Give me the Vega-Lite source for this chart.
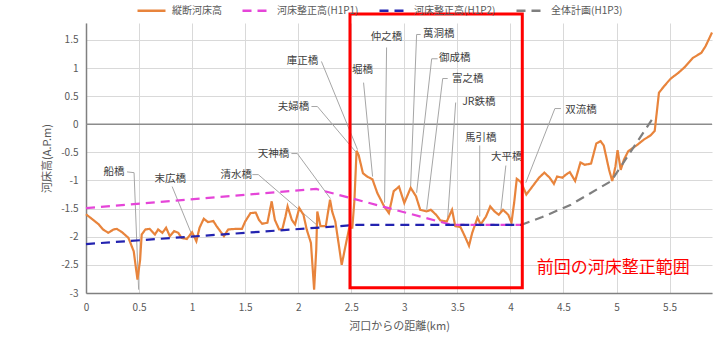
{
  "$schema": "https://vega.github.io/schema/vega-lite/v6.json",
  "width": 626,
  "height": 270,
  "autosize": {"type": "none"},
  "padding": {"left": 86, "top": 23, "right": 16, "bottom": 52},
  "background": "white",
  "config": {
    "font": "Noto Sans CJK JP",
    "view": {"stroke": null},
    "axis": {"labelFont": "Noto Sans CJK JP", "titleFont": "Noto Sans CJK JP"}
  },
  "datasets": {
    "profile": [
      {"series": "縦断河床高", "km": 0.00, "h": -1.60},
      {"series": "縦断河床高", "km": 0.12, "h": -1.78},
      {"series": "縦断河床高", "km": 0.16, "h": -1.87},
      {"series": "縦断河床高", "km": 0.21, "h": -1.93},
      {"series": "縦断河床高", "km": 0.26, "h": -1.87},
      {"series": "縦断河床高", "km": 0.29, "h": -1.86},
      {"series": "縦断河床高", "km": 0.34, "h": -1.92},
      {"series": "縦断河床高", "km": 0.40, "h": -2.02},
      {"series": "縦断河床高", "km": 0.45, "h": -2.26},
      {"series": "縦断河床高", "km": 0.485, "h": -2.76},
      {"series": "縦断河床高", "km": 0.51, "h": -2.41},
      {"series": "縦断河床高", "km": 0.525, "h": -1.96},
      {"series": "縦断河床高", "km": 0.56, "h": -1.87},
      {"series": "縦断河床高", "km": 0.60, "h": -1.86},
      {"series": "縦断河床高", "km": 0.65, "h": -1.96},
      {"series": "縦断河床高", "km": 0.68, "h": -1.87},
      {"series": "縦断河床高", "km": 0.72, "h": -1.93},
      {"series": "縦断河床高", "km": 0.755, "h": -1.84},
      {"series": "縦断河床高", "km": 0.79, "h": -1.99},
      {"series": "縦断河床高", "km": 0.83, "h": -1.90},
      {"series": "縦断河床高", "km": 0.87, "h": -1.93},
      {"series": "縦断河床高", "km": 0.90, "h": -2.02},
      {"series": "縦断河床高", "km": 0.95, "h": -2.04},
      {"series": "縦断河床高", "km": 1.00, "h": -1.92},
      {"series": "縦断河床高", "km": 1.04, "h": -2.08},
      {"series": "縦断河床高", "km": 1.07, "h": -1.84},
      {"series": "縦断河床高", "km": 1.11, "h": -1.68},
      {"series": "縦断河床高", "km": 1.15, "h": -1.74},
      {"series": "縦断河床高", "km": 1.20, "h": -1.72},
      {"series": "縦断河床高", "km": 1.23, "h": -1.81},
      {"series": "縦断河床高", "km": 1.265, "h": -1.90},
      {"series": "縦断河床高", "km": 1.30, "h": -1.99},
      {"series": "縦断河床高", "km": 1.34, "h": -1.87},
      {"series": "縦断河床高", "km": 1.41, "h": -1.86},
      {"series": "縦断河床高", "km": 1.47, "h": -1.86},
      {"series": "縦断河床高", "km": 1.50, "h": -1.73},
      {"series": "縦断河床高", "km": 1.55, "h": -1.58},
      {"series": "縦断河床高", "km": 1.60, "h": -1.57},
      {"series": "縦断河床高", "km": 1.63, "h": -1.70},
      {"series": "縦断河床高", "km": 1.66, "h": -1.77},
      {"series": "縦断河床高", "km": 1.71, "h": -1.75},
      {"series": "縦断河床高", "km": 1.75, "h": -1.37},
      {"series": "縦断河床高", "km": 1.78, "h": -1.70},
      {"series": "縦断河床高", "km": 1.82, "h": -1.87},
      {"series": "縦断河床高", "km": 1.85, "h": -1.87},
      {"series": "縦断河床高", "km": 1.88, "h": -1.64},
      {"series": "縦断河床高", "km": 1.90, "h": -1.46},
      {"series": "縦断河床高", "km": 1.94, "h": -1.70},
      {"series": "縦断河床高", "km": 1.97, "h": -1.78},
      {"series": "縦断河床高", "km": 2.01, "h": -1.49},
      {"series": "縦断河床高", "km": 2.05, "h": -1.61},
      {"series": "縦断河床高", "km": 2.08, "h": -1.87},
      {"series": "縦断河床高", "km": 2.12, "h": -2.11},
      {"series": "縦断河床高", "km": 2.15, "h": -2.94},
      {"series": "縦断河床高", "km": 2.17, "h": -2.23},
      {"series": "縦断河床高", "km": 2.18, "h": -1.55},
      {"series": "縦断河床高", "km": 2.21, "h": -1.81},
      {"series": "縦断河床高", "km": 2.26, "h": -1.81},
      {"series": "縦断河床高", "km": 2.30, "h": -1.34},
      {"series": "縦断河床高", "km": 2.32, "h": -1.55},
      {"series": "縦断河床高", "km": 2.35, "h": -1.73},
      {"series": "縦断河床高", "km": 2.38, "h": -2.11},
      {"series": "縦断河床高", "km": 2.41, "h": -2.50},
      {"series": "縦断河床高", "km": 2.445, "h": -2.17},
      {"series": "縦断河床高", "km": 2.48, "h": -1.85},
      {"series": "縦断河床高", "km": 2.51, "h": -1.84},
      {"series": "縦断河床高", "km": 2.53, "h": -1.35},
      {"series": "縦断河床高", "km": 2.55, "h": -0.47},
      {"series": "縦断河床高", "km": 2.57, "h": -0.55},
      {"series": "縦断河床高", "km": 2.61, "h": -0.87},
      {"series": "縦断河床高", "km": 2.65, "h": -0.93},
      {"series": "縦断河床高", "km": 2.70, "h": -0.98},
      {"series": "縦断河床高", "km": 2.745, "h": -1.22},
      {"series": "縦断河床高", "km": 2.81, "h": -1.46},
      {"series": "縦断河床高", "km": 2.855, "h": -1.58},
      {"series": "縦断河床高", "km": 2.90, "h": -1.19},
      {"series": "縦断河床高", "km": 2.95, "h": -1.11},
      {"series": "縦断河床高", "km": 3.00, "h": -1.40},
      {"series": "縦断河床高", "km": 3.06, "h": -1.13},
      {"series": "縦断河床高", "km": 3.11, "h": -1.28},
      {"series": "縦断河床高", "km": 3.15, "h": -1.52},
      {"series": "縦断河床高", "km": 3.21, "h": -1.55},
      {"series": "縦断河床高", "km": 3.25, "h": -1.52},
      {"series": "縦断河床高", "km": 3.30, "h": -1.61},
      {"series": "縦断河床高", "km": 3.34, "h": -1.71},
      {"series": "縦断河床高", "km": 3.40, "h": -1.73},
      {"series": "縦断河床高", "km": 3.45, "h": -1.52},
      {"series": "縦断河床高", "km": 3.48, "h": -1.81},
      {"series": "縦断河床高", "km": 3.53, "h": -1.83},
      {"series": "縦断河床高", "km": 3.57, "h": -1.99},
      {"series": "縦断河床高", "km": 3.61, "h": -2.16},
      {"series": "縦断河床高", "km": 3.64, "h": -1.93},
      {"series": "縦断河床高", "km": 3.69, "h": -1.66},
      {"series": "縦断河床高", "km": 3.72, "h": -1.78},
      {"series": "縦断河床高", "km": 3.77, "h": -1.64},
      {"series": "縦断河床高", "km": 3.81, "h": -1.46},
      {"series": "縦断河床高", "km": 3.85, "h": -1.55},
      {"series": "縦断河床高", "km": 3.89, "h": -1.61},
      {"series": "縦断河床高", "km": 3.93, "h": -1.52},
      {"series": "縦断河床高", "km": 3.98, "h": -1.61},
      {"series": "縦断河床高", "km": 4.01, "h": -1.75},
      {"series": "縦断河床高", "km": 4.035, "h": -1.40},
      {"series": "縦断河床高", "km": 4.06, "h": -0.97},
      {"series": "縦断河床高", "km": 4.10, "h": -1.03},
      {"series": "縦断河床高", "km": 4.15, "h": -1.25},
      {"series": "縦断河床高", "km": 4.21, "h": -1.10},
      {"series": "縦断河床高", "km": 4.27, "h": -0.95},
      {"series": "縦断河床高", "km": 4.32, "h": -0.86},
      {"series": "縦断河床高", "km": 4.37, "h": -0.95},
      {"series": "縦断河床高", "km": 4.41, "h": -1.06},
      {"series": "縦断河床高", "km": 4.44, "h": -0.93},
      {"series": "縦断河床高", "km": 4.49, "h": -0.95},
      {"series": "縦断河床高", "km": 4.52, "h": -0.90},
      {"series": "縦断河床高", "km": 4.56, "h": -0.85},
      {"series": "縦断河床高", "km": 4.61, "h": -1.01},
      {"series": "縦断河床高", "km": 4.66, "h": -0.68},
      {"series": "縦断河床高", "km": 4.70, "h": -0.72},
      {"series": "縦断河床高", "km": 4.76, "h": -0.70},
      {"series": "縦断河床高", "km": 4.81, "h": -0.34},
      {"series": "縦断河床高", "km": 4.85, "h": -0.30},
      {"series": "縦断河床高", "km": 4.88, "h": -0.38},
      {"series": "縦断河床高", "km": 4.93, "h": -0.81},
      {"series": "縦断河床高", "km": 4.96, "h": -1.01},
      {"series": "縦断河床高", "km": 4.99, "h": -0.75},
      {"series": "縦断河床高", "km": 5.01, "h": -0.46},
      {"series": "縦断河床高", "km": 5.04, "h": -0.81},
      {"series": "縦断河床高", "km": 5.07, "h": -0.63},
      {"series": "縦断河床高", "km": 5.11, "h": -0.48},
      {"series": "縦断河床高", "km": 5.14, "h": -0.44},
      {"series": "縦断河床高", "km": 5.20, "h": -0.36},
      {"series": "縦断河床高", "km": 5.26, "h": -0.27},
      {"series": "縦断河床高", "km": 5.32, "h": -0.20},
      {"series": "縦断河床高", "km": 5.36, "h": -0.12},
      {"series": "縦断河床高", "km": 5.40, "h": 0.56},
      {"series": "縦断河床高", "km": 5.45, "h": 0.68},
      {"series": "縦断河床高", "km": 5.51, "h": 0.81},
      {"series": "縦断河床高", "km": 5.58, "h": 0.91},
      {"series": "縦断河床高", "km": 5.64, "h": 1.01},
      {"series": "縦断河床高", "km": 5.72, "h": 1.18},
      {"series": "縦断河床高", "km": 5.80, "h": 1.27},
      {"series": "縦断河床高", "km": 5.84, "h": 1.39},
      {"series": "縦断河床高", "km": 5.90, "h": 1.63},
      {"series": "河床整正高(H1P1)", "km": 0.0, "h": -1.49},
      {"series": "河床整正高(H1P1)", "km": 2.17, "h": -1.15},
      {"series": "河床整正高(H1P1)", "km": 3.45, "h": -1.79},
      {"series": "河床整正高(H1P1)", "km": 4.1, "h": -1.79},
      {"series": "河床整正高(H1P2)", "km": 0.0, "h": -2.13},
      {"series": "河床整正高(H1P2)", "km": 2.55, "h": -1.79},
      {"series": "河床整正高(H1P2)", "km": 4.1, "h": -1.79},
      {"series": "全体計画(H1P3)", "km": 4.1, "h": -1.79},
      {"series": "全体計画(H1P3)", "km": 4.3, "h": -1.65},
      {"series": "全体計画(H1P3)", "km": 4.57, "h": -1.43},
      {"series": "全体計画(H1P3)", "km": 4.75, "h": -1.23},
      {"series": "全体計画(H1P3)", "km": 4.95, "h": -1.01},
      {"series": "全体計画(H1P3)", "km": 5.34, "h": 0.1}
    ],
    "zero": [
      {"km": 0, "h": 0},
      {"km": 5.9, "h": 0}
    ],
    "leaders": [
      {"id": 1, "o": 1, "km": 0.387, "h": -0.847},
      {"id": 1, "o": 2, "km": 0.453, "h": -0.861},
      {"id": 1, "o": 3, "km": 0.496, "h": -2.941},
      {"id": 2, "o": 1, "km": 0.812, "h": -1.108},
      {"id": 2, "o": 2, "km": 1.001, "h": -1.980},
      {"id": 3, "o": 1, "km": 1.568, "h": -0.895},
      {"id": 3, "o": 2, "km": 1.624, "h": -0.895},
      {"id": 3, "o": 3, "km": 2.172, "h": -1.785},
      {"id": 4, "o": 1, "km": 1.936, "h": -0.521},
      {"id": 4, "o": 2, "km": 1.992, "h": -0.521},
      {"id": 4, "o": 3, "km": 2.304, "h": -1.322},
      {"id": 5, "o": 1, "km": 2.125, "h": 0.315},
      {"id": 5, "o": 2, "km": 2.181, "h": 0.315},
      {"id": 5, "o": 3, "km": 2.540, "h": -0.486},
      {"id": 6, "o": 1, "km": 2.219, "h": 1.116},
      {"id": 6, "o": 2, "km": 2.559, "h": -0.450},
      {"id": 7, "o": 1, "km": 2.616, "h": 0.740},
      {"id": 7, "o": 2, "km": 2.701, "h": -0.930},
      {"id": 8, "o": 1, "km": 2.833, "h": 1.365},
      {"id": 8, "o": 2, "km": 2.814, "h": -1.393},
      {"id": 9, "o": 1, "km": 3.154, "h": 1.596},
      {"id": 9, "o": 2, "km": 3.116, "h": 1.596},
      {"id": 9, "o": 3, "km": 3.059, "h": -1.126},
      {"id": 10, "o": 1, "km": 3.314, "h": 1.164},
      {"id": 10, "o": 2, "km": 3.258, "h": 1.164},
      {"id": 10, "o": 3, "km": 3.116, "h": -1.218},
      {"id": 11, "o": 1, "km": 3.409, "h": 0.813},
      {"id": 11, "o": 2, "km": 3.362, "h": 0.813},
      {"id": 11, "o": 3, "km": 3.211, "h": -1.518},
      {"id": 12, "o": 1, "km": 3.484, "h": 0.386},
      {"id": 12, "o": 2, "km": 3.409, "h": -1.660},
      {"id": 13, "o": 1, "km": 3.711, "h": -0.377},
      {"id": 13, "o": 2, "km": 3.711, "h": -1.641},
      {"id": 14, "o": 1, "km": 3.957, "h": -0.734},
      {"id": 14, "o": 2, "km": 3.909, "h": -1.553},
      {"id": 15, "o": 1, "km": 4.476, "h": 0.279},
      {"id": 15, "o": 2, "km": 4.419, "h": 0.279},
      {"id": 15, "o": 3, "km": 4.145, "h": -1.039}
    ],
    "labels": [
      {"km": 0.264, "h": -0.842, "text": "船橋"},
      {"km": 0.793, "h": -0.970, "text": "末広橋"},
      {"km": 1.416, "h": -0.895, "text": "清水橋"},
      {"km": 1.766, "h": -0.521, "text": "天神橋"},
      {"km": 1.955, "h": 0.315, "text": "夫婦橋"},
      {"km": 2.040, "h": 1.116, "text": "庫正橋"},
      {"km": 2.606, "h": 0.972, "text": "堀橋"},
      {"km": 2.833, "h": 1.560, "text": "仲之橋"},
      {"km": 3.324, "h": 1.596, "text": "萬洞橋"},
      {"km": 3.475, "h": 1.169, "text": "御成橋"},
      {"km": 3.598, "h": 0.813, "text": "富之橋"},
      {"km": 3.702, "h": 0.404, "text": "JR鉄橋"},
      {"km": 3.720, "h": -0.237, "text": "馬引橋"},
      {"km": 3.966, "h": -0.591, "text": "大平橋"},
      {"km": 4.665, "h": 0.262, "text": "双流橋"}
    ],
    "box": [
      {"km": 2.488, "km2": 4.112, "h": 1.96, "h2": -2.906}
    ],
    "note": [
      {"km": 4.97, "h": -2.55, "text": "前回の河床整正範囲"}
    ]
  },
  "encoding": {
    "x": {
      "field": "km",
      "type": "quantitative",
      "scale": {"domain": [0, 5.9], "nice": false, "zero": false},
      "axis": {
        "values": [0, 0.5, 1, 1.5, 2, 2.5, 3, 3.5, 4, 4.5, 5, 5.5],
        "labelExpr": "'' + datum.value",
        "title": "河口からの距離(km)",
        "grid": true,
        "gridColor": "#d9d9d9",
        "ticks": false,
        "domainColor": "#808080",
        "domainWidth": 1.5,
        "labelColor": "#595959",
        "labelFontSize": 10,
        "labelPadding": 9,
        "labelFlush": false,
        "titleFontSize": 11,
        "titleFontWeight": "normal",
        "titleColor": "#595959",
        "titlePadding": 8
      }
    },
    "y": {
      "field": "h",
      "type": "quantitative",
      "scale": {"domain": [-3, 1.8], "nice": false, "zero": false},
      "axis": {
        "values": [-3, -2.5, -2, -1.5, -1, -0.5, 0, 0.5, 1, 1.5],
        "labelExpr": "'' + datum.value",
        "title": "河床高(A.P.m)",
        "grid": true,
        "gridColor": "#d9d9d9",
        "ticks": false,
        "domainColor": "#808080",
        "domainWidth": 1.5,
        "labelColor": "#595959",
        "labelFontSize": 10,
        "labelPadding": 8,
        "titleFontSize": 11,
        "titleFontWeight": "normal",
        "titleColor": "#595959",
        "titlePadding": 8
      }
    }
  },
  "layer": [
    {
      "data": {"name": "zero"},
      "mark": {"type": "line", "color": "#8c8c8c", "strokeWidth": 1.5},
      "encoding": {}
    },
    {
      "data": {"name": "leaders"},
      "mark": {"type": "line", "color": "#a6a6a6", "strokeWidth": 1},
      "encoding": {
        "detail": {"field": "id", "type": "nominal"},
        "order": {"field": "o", "type": "quantitative"}
      }
    },
    {
      "data": {"name": "profile"},
      "mark": {"type": "line", "strokeWidth": 2.2},
      "encoding": {
        "color": {
          "field": "series",
          "type": "nominal",
          "scale": {
            "domain": ["縦断河床高", "河床整正高(H1P1)", "河床整正高(H1P2)", "全体計画(H1P3)"],
            "range": ["#e8843c", "#e545d8", "#2323b0", "#7f7f7f"]
          },
          "legend": {
            "title": null,
            "orient": "none",
            "legendX": 50,
            "legendY": -28,
            "direction": "horizontal",
            "symbolType": "stroke",
            "symbolSize": 784,
            "symbolStrokeWidth": 2.5,
            "labelFontSize": 10,
            "labelColor": "#595959",
            "columnPadding": 15,
            "labelOffset": 5
          }
        },
        "strokeDash": {
          "field": "series",
          "type": "nominal",
          "scale": {
            "domain": ["縦断河床高", "河床整正高(H1P1)", "河床整正高(H1P2)", "全体計画(H1P3)"],
            "range": [[1, 0], [9, 6], [9, 6], [9, 6]]
          },
          "legend": {
            "title": null,
            "orient": "none",
            "legendX": 50,
            "legendY": -28,
            "direction": "horizontal",
            "symbolType": "stroke",
            "symbolSize": 784,
            "symbolStrokeWidth": 2.5,
            "labelFontSize": 10,
            "labelColor": "#595959",
            "columnPadding": 15,
            "labelOffset": 5
          }
        }
      }
    },
    {
      "data": {"name": "labels"},
      "mark": {"type": "text", "fontSize": 10.5, "color": "#404040", "align": "center", "baseline": "middle"},
      "encoding": {"text": {"field": "text", "type": "nominal"}}
    },
    {
      "data": {"name": "box"},
      "mark": {"type": "rect", "filled": false, "stroke": "#ff0000", "strokeWidth": 3},
      "encoding": {
        "x2": {"field": "km2"},
        "y2": {"field": "h2"}
      }
    },
    {
      "data": {"name": "note"},
      "mark": {"type": "text", "fontSize": 17, "color": "#ff0000", "align": "center", "baseline": "middle"},
      "encoding": {"text": {"field": "text", "type": "nominal"}}
    }
  ]
}
